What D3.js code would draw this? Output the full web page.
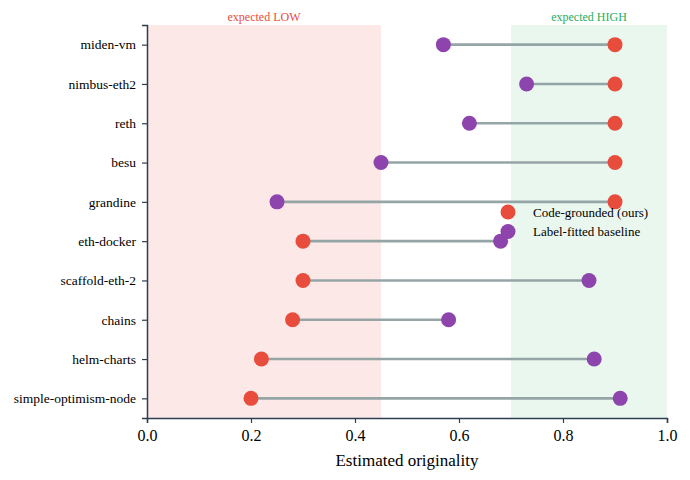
<!DOCTYPE html>
<html>
  <head>
    <meta charset="utf-8">
    <script src="https://d3js.org/d3.v7.min.js"></script>
  </head>
  <body style="margin:0">
    <svg id="viz"></svg>

    <script>
    // data
    var repos = ["miden-vm", "nimbus-eth2", "reth", "besu", "grandine",
                 "eth-docker", "scaffold-eth-2", "chains", "helm-charts", "simple-optimism-node"];
    var ours     = [0.90, 0.90, 0.90, 0.90, 0.90, 0.30, 0.30, 0.28, 0.22, 0.20];
    var baseline = [0.57, 0.73, 0.62, 0.45, 0.25, 0.68, 0.85, 0.58, 0.86, 0.91];
    var xTicks = [0.0, 0.2, 0.4, 0.6, 0.8, 1.0];
    var lowBand = [0, 0.45];
    var highBand = [0.7, 1.0];

    var width = 690, height = 480;
    var margin = {top: 25, right: 23, bottom: 62, left: 147};
    var serif = "'Liberation Serif'";

    var svg = d3.select("#viz")
      .attr("width", width)
      .attr("height", height);

    var x = d3.scaleLinear().domain([0, 1]).range([margin.left, width - margin.right]);
    var y = d3.scalePoint().domain(repos).range([margin.top, height - margin.bottom]).padding(0.5);

    var red = "#e74c3c", purple = "#8e44ad", green = "#27ae60";

    // shaded regions
    svg.append("rect")
      .attr("x", x(lowBand[0])).attr("width", x(lowBand[1]) - x(lowBand[0]))
      .attr("y", margin.top).attr("height", height - margin.bottom - margin.top)
      .attr("fill", red).attr("fill-opacity", 0.12);
    svg.append("rect")
      .attr("x", x(highBand[0])).attr("width", x(highBand[1]) - x(highBand[0]))
      .attr("y", margin.top).attr("height", height - margin.bottom - margin.top)
      .attr("fill", green).attr("fill-opacity", 0.1);

    svg.append("text")
      .attr("x", x(d3.mean(lowBand))).attr("y", 21)
      .attr("text-anchor", "middle").attr("fill", red)
      .style("font-family", serif).style("font-size", "12px")
      .text("expected LOW");
    svg.append("text")
      .attr("x", x(d3.mean(highBand))).attr("y", 21)
      .attr("text-anchor", "middle").attr("fill", green)
      .style("font-family", serif).style("font-size", "12px")
      .text("expected HIGH");

    var rows = repos.map(function(r, i){ return {name: r, ours: ours[i], base: baseline[i]}; });

    // connectors
    svg.append("g").selectAll("line").data(rows).enter().append("line")
      .attr("x1", function(d){ return x(d.ours); })
      .attr("x2", function(d){ return x(d.base); })
      .attr("y1", function(d){ return y(d.name); })
      .attr("y2", function(d){ return y(d.name); })
      .attr("stroke", "#95a5a6").attr("stroke-width", 2.6);

    var dots = svg.append("g");
    dots.selectAll("circle.ours").data(rows).enter().append("circle")
      .attr("class", "ours")
      .attr("cx", function(d){ return x(d.ours); })
      .attr("cy", function(d){ return y(d.name); })
      .attr("r", 7.5).attr("fill", red);
    dots.selectAll("circle.base").data(rows).enter().append("circle")
      .attr("class", "base")
      .attr("cx", function(d){ return x(d.base); })
      .attr("cy", function(d){ return y(d.name); })
      .attr("r", 7.5).attr("fill", purple);

    // axes
    var axisColor = "#2c3e50";
    var xAxis = svg.append("g")
      .attr("transform", "translate(0," + (height - margin.bottom) + ")")
      .call(d3.axisBottom(x).tickValues(xTicks).tickFormat(d3.format(".1f")).tickSizeOuter(0).tickSize(5));
    xAxis.attr("font-family", null).attr("font-size", null);
    xAxis.selectAll("text").attr("fill", "#000").attr("dy", "0.95em")
      .style("font-family", serif).style("font-size", "16px");

    var yAxis = svg.append("g")
      .attr("transform", "translate(" + margin.left + ",0)")
      .call(d3.axisLeft(y).tickSizeOuter(0).tickSize(5).tickPadding(6));
    yAxis.attr("font-family", null).attr("font-size", null);
    yAxis.selectAll("text").attr("fill", "#000")
      .style("font-family", serif).style("font-size", "13.5px");

    [xAxis, yAxis].forEach(function(a){
      a.select(".domain").attr("stroke", axisColor).attr("stroke-width", 1.5);
      a.selectAll(".tick line").attr("stroke", axisColor).attr("stroke-width", 1.2);
    });

    svg.append("text")
      .attr("x", x(0.5)).attr("y", 466)
      .attr("text-anchor", "middle").attr("fill", "#000")
      .style("font-family", serif).style("font-size", "17px")
      .text("Estimated originality");

    // legend
    var legend = [{label: "Code-grounded (ours)", color: red}, {label: "Label-fitted baseline", color: purple}];
    var lg = svg.append("g").attr("transform", "translate(508,212)");
    lg.selectAll("circle").data(legend).enter().append("circle")
      .attr("cx", 0).attr("cy", function(d, i){ return i * 19.5; })
      .attr("r", 7.5).attr("fill", function(d){ return d.color; });
    lg.selectAll("text").data(legend).enter().append("text")
      .attr("x", 25).attr("y", function(d, i){ return i * 19.5; })
      .attr("dy", "0.35em").attr("fill", "#000")
      .style("font-family", serif).style("font-size", "13px")
      .text(function(d){ return d.label; });
    </script>
  </body>
</html>
